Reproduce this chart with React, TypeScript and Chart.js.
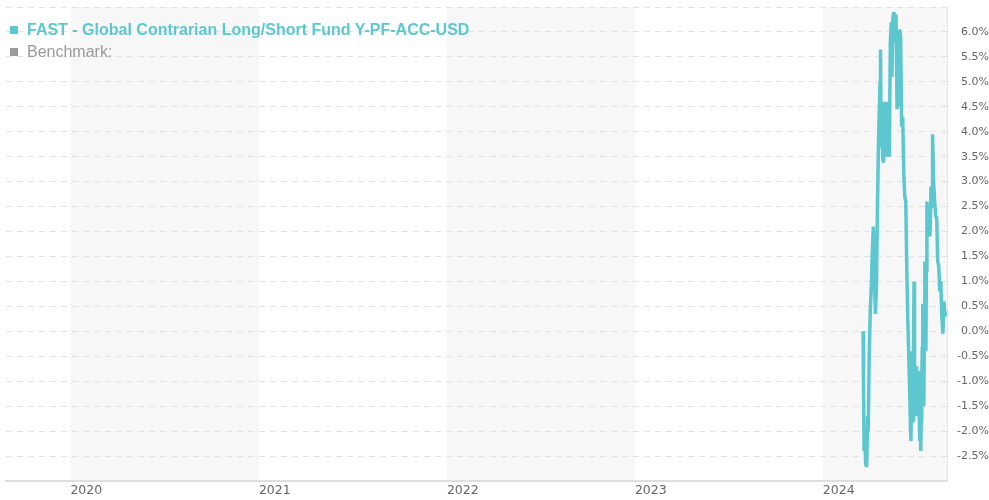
import React, { useEffect, useRef } from 'react';
import { Chart, registerables } from 'chart.js';

Chart.register(...registerables);

const fundName = 'FAST - Global Contrarian Long/Short Fund Y-PF-ACC-USD';
const benchmarkName = 'Benchmark:';

const dates = [
  '2024-03-19', '2024-03-20', '2024-03-21', '2024-03-23', '2024-03-24', '2024-03-26', '2024-03-28', '2024-03-29',
  '2024-03-31', '2024-04-02', '2024-04-04', '2024-04-06', '2024-04-08', '2024-04-10', '2024-04-12', '2024-04-14',
  '2024-04-16', '2024-04-18', '2024-04-20', '2024-04-21', '2024-04-22', '2024-04-23', '2024-04-24', '2024-04-25',
  '2024-04-26', '2024-04-27', '2024-04-28', '2024-04-29', '2024-04-30', '2024-05-01', '2024-05-02', '2024-05-03',
  '2024-05-04', '2024-05-05', '2024-05-06', '2024-05-07', '2024-05-08', '2024-05-09', '2024-05-11', '2024-05-13',
  '2024-05-14', '2024-05-16', '2024-05-18', '2024-05-20', '2024-05-22', '2024-05-24', '2024-05-26', '2024-05-27',
  '2024-05-29', '2024-05-31', '2024-06-02', '2024-06-04', '2024-06-06', '2024-06-08', '2024-06-10', '2024-06-12',
  '2024-06-14', '2024-06-16', '2024-06-17', '2024-06-18', '2024-06-19', '2024-06-20', '2024-06-21', '2024-06-22',
  '2024-06-23', '2024-06-24', '2024-06-25', '2024-06-26', '2024-06-27', '2024-06-28', '2024-06-29', '2024-06-30',
  '2024-07-01', '2024-07-02', '2024-07-03', '2024-07-04', '2024-07-05', '2024-07-06', '2024-07-07', '2024-07-08',
  '2024-07-09', '2024-07-10', '2024-07-11', '2024-07-12', '2024-07-13', '2024-07-14', '2024-07-15', '2024-07-16',
  '2024-07-17', '2024-07-18', '2024-07-19', '2024-07-20', '2024-07-21', '2024-07-23', '2024-07-25', '2024-07-27',
  '2024-07-29', '2024-07-31', '2024-08-01', '2024-08-03', '2024-08-05', '2024-08-07', '2024-08-09', '2024-08-11',
  '2024-08-13', '2024-08-15', '2024-08-17', '2024-08-19', '2024-08-21', '2024-08-23', '2024-08-25', '2024-08-27',
];

const fundValues = [
  0.0, -1.2, -2.4, -2.3, -2.65, -2.72, -1.7, -2.0,
  -0.5, 0.4, 0.9, 1.6, 2.1, 1.0, 0.35, 0.9,
  2.5, 3.8, 4.6, 5.0, 5.65, 3.7, 4.5, 4.6,
  3.5, 3.4, 4.2, 4.6, 3.6, 3.7, 4.5, 4.4,
  3.5, 3.6, 4.6, 4.5, 3.6, 3.5, 5.8, 6.2,
  5.1, 6.3, 6.4, 5.8, 6.35, 4.45, 5.5, 4.5,
  6.05, 5.9, 4.1, 4.3, 3.2, 2.7, 2.6, 1.2,
  0.2, -0.6, -1.0, -1.4, -1.9, -2.2, -1.2, -0.4,
  -1.1, -1.8, -0.2, 1.0, -0.8, -1.2, -1.7, -0.9,
  -0.7, -1.3, -1.5, -0.8, -0.9, -1.6, -2.2, -1.5,
  -2.4, -1.8, -1.0, -0.3, 0.55, -0.6, -1.5, -0.2,
  1.4, 0.5, -0.4, 1.2, 2.6, 1.9, 2.4, 1.9,
  2.9, 2.5, 3.95, 2.98, 2.6, 2.3, 2.28, 1.4,
  1.3, 0.8, 1.0, 0.3, -0.05, 0.6, 0.3, 0.4,
];

const yearTickDates = ['2020-01-01', '2021-01-01', '2022-01-01', '2023-01-01', '2024-01-01'];
const shadedYears = [2020, 2022, 2024];
const rangeStart = '2019-08-29';
const rangeEnd = '2024-08-29';
const yMin = -3;
const yMax = 6.5;
const yStep = 0.5;

const fundColor = '#5cc7cf';
const benchColor = '#9a9a9a';

const bandsPlugin = {
  id: 'yearBands',
  beforeDraw(chart: any) {
    const { ctx, chartArea, scales } = chart;
    const x = scales.x;
    ctx.save();
    ctx.fillStyle = '#f7f7f7';
    shadedYears.forEach((yr) => {
      const a = x.getPixelForValue(Date.parse(`${yr}-01-01`));
      const b = x.getPixelForValue(Date.parse(`${yr + 1}-01-01`));
      const x0 = Math.max(a, chartArea.left);
      const x1 = Math.min(b, chartArea.right);
      if (x1 > x0) ctx.fillRect(x0, chartArea.top, x1 - x0, chartArea.bottom - chartArea.top);
    });
    ctx.restore();
  },
};

export default function App() {
  const canvasRef = useRef<HTMLCanvasElement | null>(null);

  useEffect(() => {
    if (!canvasRef.current) return;
    const points = dates.map((d, i) => ({ x: Date.parse(d), y: fundValues[i] }));
    const chart = new Chart(canvasRef.current, {
      type: 'line',
      data: {
        datasets: [
          {
            label: fundName,
            data: points,
            borderColor: fundColor,
            backgroundColor: fundColor,
            borderWidth: 3.5,
            pointRadius: 0,
            tension: 0,
            fill: false,
            borderJoinStyle: 'bevel',
          },
        ],
      },
      options: {
        animation: false,
        responsive: true,
        maintainAspectRatio: false,
        layout: { padding: { left: 6, top: 7, right: 0, bottom: 0 } },
        plugins: { legend: { display: false }, tooltip: { enabled: false } },
        scales: {
          x: {
            type: 'linear',
            min: Date.parse(rangeStart),
            max: Date.parse(rangeEnd),
            afterBuildTicks: (scale: any) => {
              scale.ticks = yearTickDates.map((d) => ({ value: Date.parse(d) }));
            },
            afterFit: (scale: any) => {
              scale.height = 19;
            },
            grid: { display: false, drawTicks: false },
            border: { display: true, color: '#dedede', width: 2 },
            ticks: {
              autoSkip: false,
              maxRotation: 0,
              minRotation: 0,
              align: 'start',
              padding: 2,
              color: '#666',
              font: { family: 'DejaVu Sans', size: 12.5 },
              callback: (v: any) => String(new Date(Number(v)).getUTCFullYear()),
            },
          },
          y: {
            position: 'right',
            min: yMin,
            max: yMax,
            afterFit: (scale: any) => {
              scale.width = 42;
            },
            grid: { color: '#e2e2e2', drawTicks: false, tickLength: 0 },
            border: { display: true, color: '#e6e6e6', width: 1, dash: [6, 5] },
            ticks: {
              stepSize: yStep,
              crossAlign: 'far',
              padding: 0,
              color: '#666',
              font: { family: 'DejaVu Sans', size: 11 },
              callback: (v: any) => {
                const n = Number(v);
                if (n <= yMin + 1e-6 || n >= yMax - 1e-6) return '';
                return n.toFixed(1) + '%';
              },
            },
          },
        },
      },
      plugins: [bandsPlugin],
    } as any);
    return () => chart.destroy();
  }, []);

  const rowStyle: React.CSSProperties = {
    position: 'absolute',
    left: 10,
    height: 18,
    lineHeight: '18px',
    fontFamily: '"Liberation Sans", Arial, sans-serif',
    fontSize: 16,
    whiteSpace: 'nowrap',
  };
  const square = (c: string): React.CSSProperties => ({
    display: 'inline-block',
    width: 8,
    height: 8,
    background: c,
    marginRight: 9,
    verticalAlign: 'middle',
    position: 'relative',
    top: -1,
  });

  return (
    <div style={{ position: 'fixed', left: 0, top: 0, width: 989, height: 500, background: '#fff' }}>
      <canvas ref={canvasRef} />
      <div style={{ ...rowStyle, top: 21, color: fundColor, fontWeight: 'bold' }}>
        <span style={square(fundColor)} />
        {fundName}
      </div>
      <div style={{ ...rowStyle, top: 43, color: benchColor }}>
        <span style={square(benchColor)} />
        {benchmarkName}
      </div>
    </div>
  );
}
